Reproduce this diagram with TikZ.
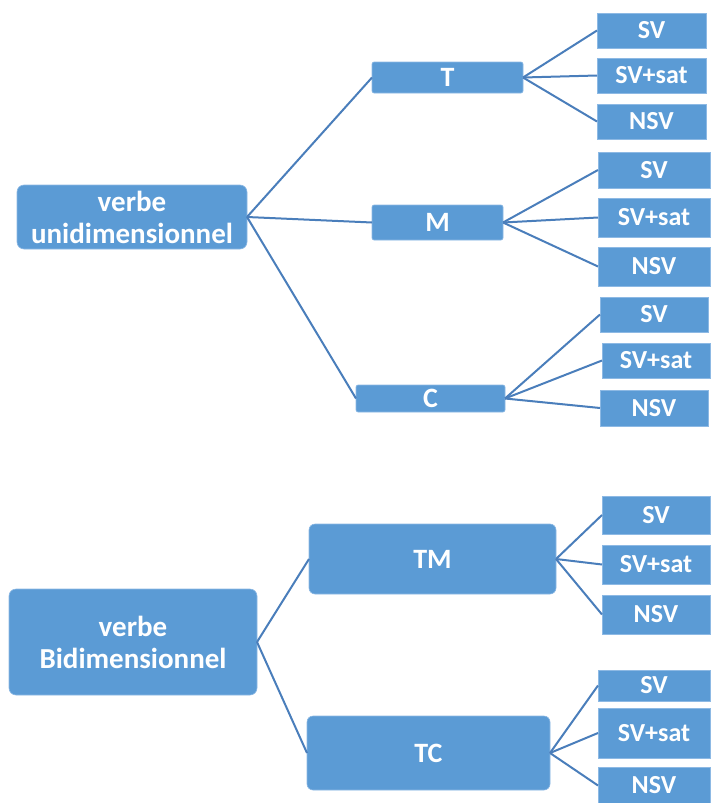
\documentclass[tikz,border=0pt]{standalone}
\usepackage{fontspec}
\setmainfont{Carlito}
\definecolor{boxblue}{HTML}{5B9BD5}
\definecolor{boxedge}{HTML}{8DB9E4}
\definecolor{linkblue}{HTML}{4A7EBB}
\begin{document}
\begin{tikzpicture}[x=1pt,y=-1pt,
  base/.style={anchor=north west, fill=boxblue, draw=boxedge, line width=0.6pt,
    inner sep=0pt, outer sep=0pt, text=white, align=center,
    font=\bfseries\fontsize{28}{31}\selectfont},
  bigbox/.style={base, rounded corners=7pt, font=\bfseries\fontsize{29}{32}\selectfont},
  midbox/.style={base, rounded corners=6pt},
  smallbox/.style={base, rounded corners=2pt},
  leaf/.style={base, font=\bfseries\fontsize{26}{30}\selectfont},
  link/.style={draw=linkblue, line width=2pt}
]
\useasboundingbox (0,0) rectangle (710,803);

% --- top tree ---
\node[bigbox, minimum width=230, minimum height=64] (u) at (17,185) {verbe\\unidimensionnel};
\node[smallbox, minimum width=151, minimum height=31] (t) at (372,62) {T};
\node[smallbox, minimum width=131, minimum height=35] (m) at (372,205) {M};
\node[smallbox, minimum width=149, minimum height=27] (c) at (356,385) {C};

\node[leaf, minimum width=109, minimum height=35] (t1) at (597,13) {SV};
\node[leaf, minimum width=109, minimum height=35] (t2) at (597,58) {SV+sat};
\node[leaf, minimum width=109, minimum height=35] (t3) at (597,104) {NSV};

\node[leaf, minimum width=112, minimum height=36] (m1) at (598,152) {SV};
\node[leaf, minimum width=112, minimum height=39] (m2) at (598,198) {SV+sat};
\node[leaf, minimum width=112, minimum height=39] (m3) at (598,247) {NSV};

\node[leaf, minimum width=108, minimum height=35] (c1) at (600,297) {SV};
\node[leaf, minimum width=108, minimum height=35] (c2) at (602,343) {SV+sat};
\node[leaf, minimum width=108, minimum height=36] (c3) at (600,390) {NSV};

\draw[link] (u.east) -- (t.west);
\draw[link] (u.east) -- (m.west);
\draw[link] (u.east) -- (c.west);
\foreach \p/\k in {t/t1,t/t2,t/t3,m/m1,m/m2,m/m3,c/c1,c/c2,c/c3}
  \draw[link] (\p.east) -- (\k.west);

% --- bottom tree ---
\node[bigbox, minimum width=248, minimum height=106] (b) at (9,589) {verbe\\Bidimensionnel};
\node[midbox, minimum width=247, minimum height=70] (tm) at (309,524) {TM};
\node[midbox, minimum width=243, minimum height=74] (tc) at (307,716) {TC};

\node[leaf, minimum width=108, minimum height=38] (tm1) at (602,496) {SV};
\node[leaf, minimum width=108, minimum height=39] (tm2) at (602,545) {SV+sat};
\node[leaf, minimum width=108, minimum height=39] (tm3) at (602,595) {NSV};

\node[leaf, minimum width=112, minimum height=31] (tc1) at (598,670) {SV};
\node[leaf, minimum width=112, minimum height=50] (tc2) at (598,708) {SV+sat};
\node[leaf, minimum width=112, minimum height=37] (tc3) at (598,767) {NSV};

\draw[link] (b.east) -- (tm.west);
\draw[link] (b.east) -- (tc.west);
\foreach \p/\k in {tm/tm1,tm/tm2,tm/tm3,tc/tc1,tc/tc2,tc/tc3}
  \draw[link] (\p.east) -- (\k.west);
\end{tikzpicture}
\end{document}
